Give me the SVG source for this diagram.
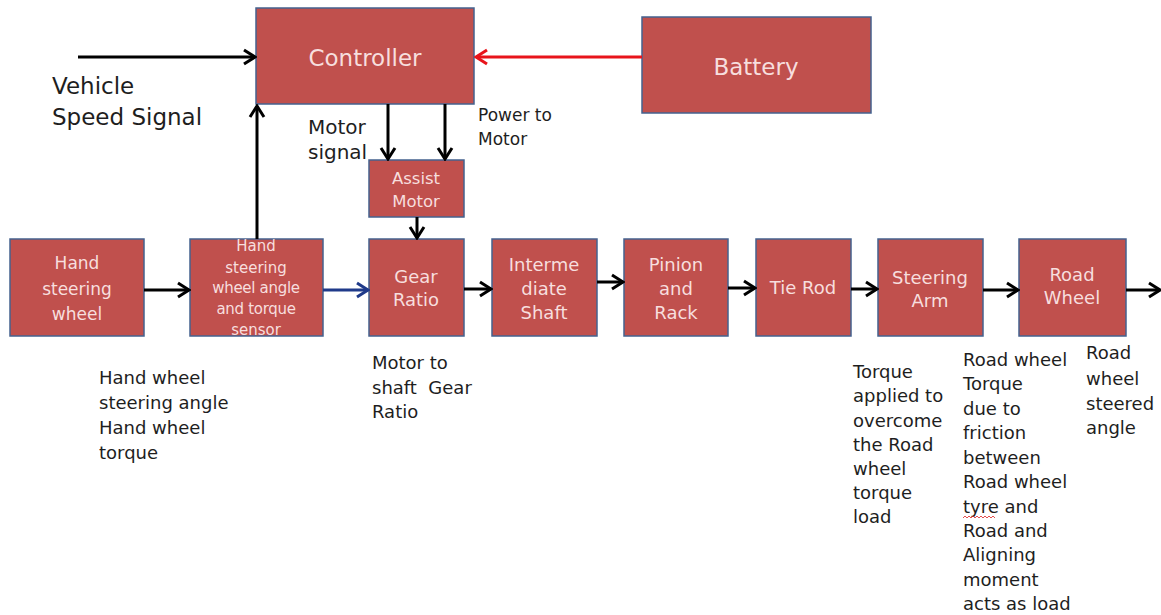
<svg xmlns="http://www.w3.org/2000/svg" width="1161" height="615" viewBox="0 0 1161 615">
<style>
.box{fill:#c0504d;stroke:#44628f;stroke-width:1.5}
.bt{font-family:"DejaVu Sans",sans-serif;fill:#f7dede;text-anchor:middle}
.lt{font-family:"DejaVu Sans",sans-serif;fill:#1e1e1e}
.ln{fill:none;stroke:#000;stroke-width:3}
</style>
<defs>
<marker id="ab" viewBox="0 0 16 18" refX="14" refY="9" markerWidth="16" markerHeight="18" markerUnits="userSpaceOnUse" orient="auto"><path d="M3,2 L14,9 L3,16" fill="none" stroke="#000" stroke-width="3"/></marker>
<marker id="ar" viewBox="0 0 16 18" refX="14" refY="9" markerWidth="16" markerHeight="18" markerUnits="userSpaceOnUse" orient="auto"><path d="M3,2 L14,9 L3,16" fill="none" stroke="#e8141b" stroke-width="3"/></marker>
<marker id="au" viewBox="0 0 16 18" refX="14" refY="9" markerWidth="16" markerHeight="18" markerUnits="userSpaceOnUse" orient="auto"><path d="M3,2 L14,9 L3,16" fill="none" stroke="#1f3a8a" stroke-width="3"/></marker>
</defs>
<rect width="1161" height="615" fill="#fff"/>

<g id="controller"><rect class="box" x="256" y="8" width="218" height="96"/><text class="bt" x="365" y="66" font-size="23">Controller</text></g>
<g id="battery"><rect class="box" x="642" y="17" width="229" height="96"/><text class="bt" x="756" y="75" font-size="23">Battery</text></g>
<g id="assist-motor"><rect class="box" x="369" y="160" width="95" height="57"/><text class="bt" x="416" y="184" font-size="16.5">Assist</text><text class="bt" x="416" y="207" font-size="16.5">Motor</text></g>
<g id="hand-steering-wheel"><rect class="box" x="10" y="239" width="134" height="97"/><text class="bt" x="77" y="269" font-size="17">Hand</text><text class="bt" x="77" y="295" font-size="17">steering</text><text class="bt" x="77" y="320" font-size="17">wheel</text></g>
<g id="sensor"><rect class="box" x="190" y="239" width="133" height="97"/><text class="bt" x="256" y="251" font-size="15">Hand</text><text class="bt" x="256" y="273" font-size="15">steering</text><text class="bt" x="256" y="293" font-size="15" letter-spacing="-0.3">wheel angle</text><text class="bt" x="256" y="314" font-size="15" letter-spacing="-0.3">and torque</text><text class="bt" x="256" y="335" font-size="15">sensor</text></g>
<g id="gear-ratio"><rect class="box" x="369" y="239" width="95" height="97"/><text class="bt" x="416" y="283" font-size="18">Gear</text><text class="bt" x="416" y="306" font-size="18">Ratio</text></g>
<g id="intermediate-shaft"><rect class="box" x="492" y="239" width="105" height="97"/><text class="bt" x="544" y="271" font-size="18">Interme</text><text class="bt" x="544" y="295" font-size="18">diate</text><text class="bt" x="544" y="319" font-size="18">Shaft</text></g>
<g id="pinion-rack"><rect class="box" x="624" y="239" width="104" height="97"/><text class="bt" x="676" y="271" font-size="18">Pinion</text><text class="bt" x="676" y="295" font-size="18">and</text><text class="bt" x="676" y="319" font-size="18">Rack</text></g>
<g id="tie-rod"><rect class="box" x="756" y="239" width="95" height="97"/><text class="bt" x="803" y="294" font-size="18">Tie Rod</text></g>
<g id="steering-arm"><rect class="box" x="878" y="239" width="105" height="97"/><text class="bt" x="930" y="284" font-size="18">Steering</text><text class="bt" x="930" y="307" font-size="18">Arm</text></g>
<g id="road-wheel"><rect class="box" x="1019" y="239" width="107" height="97"/><text class="bt" x="1072" y="281" font-size="18">Road</text><text class="bt" x="1072" y="304" font-size="18">Wheel</text></g>

<g id="connectors">
<line class="ln" x1="78" y1="57" x2="255" y2="57" marker-end="url(#ab)"/>
<line x1="642" y1="57" x2="476" y2="57" stroke="#e8141b" stroke-width="3" marker-end="url(#ar)"/>
<line class="ln" x1="257" y1="239" x2="257" y2="106" marker-end="url(#ab)"/>
<line class="ln" x1="388" y1="104" x2="388" y2="159" marker-end="url(#ab)"/>
<line class="ln" x1="445" y1="104" x2="445" y2="159" marker-end="url(#ab)"/>
<line class="ln" x1="417" y1="217" x2="417" y2="238" marker-end="url(#ab)"/>
<line class="ln" x1="144" y1="290" x2="189" y2="290" marker-end="url(#ab)"/>
<line x1="323" y1="290" x2="368" y2="290" stroke="#1f3a8a" stroke-width="3" marker-end="url(#au)"/>
<line class="ln" x1="464" y1="289" x2="491" y2="289" marker-end="url(#ab)"/>
<line class="ln" x1="597" y1="282" x2="623" y2="282" marker-end="url(#ab)"/>
<line class="ln" x1="728" y1="288" x2="755" y2="288" marker-end="url(#ab)"/>
<line class="ln" x1="851" y1="289" x2="877" y2="289" marker-end="url(#ab)"/>
<line class="ln" x1="983" y1="290" x2="1018" y2="290" marker-end="url(#ab)"/>
<line class="ln" x1="1126" y1="290" x2="1160" y2="290" marker-end="url(#ab)"/>
</g>

<g id="labels">
<text class="lt" x="52" y="94" font-size="23">Vehicle</text>
<text class="lt" x="52" y="125" font-size="23">Speed Signal</text>
<text class="lt" x="308" y="134" font-size="20">Motor</text>
<text class="lt" x="308" y="159" font-size="20">signal</text>
<text class="lt" x="478" y="121" font-size="17">Power to</text>
<text class="lt" x="478" y="145" font-size="17">Motor</text>
<text class="lt" x="99" y="384" font-size="18">Hand wheel</text>
<text class="lt" x="99" y="409" font-size="18">steering angle</text>
<text class="lt" x="99" y="434" font-size="18">Hand wheel</text>
<text class="lt" x="99" y="459" font-size="18">torque</text>
<text class="lt" x="372" y="369" font-size="18">Motor to</text>
<text class="lt" x="372" y="394" font-size="18" xml:space="preserve">shaft  Gear</text>
<text class="lt" x="372" y="418" font-size="18">Ratio</text>
<text class="lt" x="853" y="378" font-size="18">Torque</text>
<text class="lt" x="853" y="402" font-size="18">applied to</text>
<text class="lt" x="853" y="427" font-size="18">overcome</text>
<text class="lt" x="853" y="451" font-size="18">the Road</text>
<text class="lt" x="853" y="475" font-size="18">wheel</text>
<text class="lt" x="853" y="499" font-size="18">torque</text>
<text class="lt" x="853" y="523" font-size="18">load</text>
<text class="lt" x="963" y="366" font-size="18">Road wheel</text>
<text class="lt" x="963" y="390" font-size="18">Torque</text>
<text class="lt" x="963" y="415" font-size="18">due to</text>
<text class="lt" x="963" y="439" font-size="18">friction</text>
<text class="lt" x="963" y="464" font-size="18">between</text>
<text class="lt" x="963" y="488" font-size="18">Road wheel</text>
<text class="lt" x="963" y="513" font-size="18">tyre and</text>
<text class="lt" x="963" y="537" font-size="18">Road and</text>
<text class="lt" x="963" y="561" font-size="18">Aligning</text>
<text class="lt" x="963" y="586" font-size="18">moment</text>
<text class="lt" x="963" y="610" font-size="18">acts as load</text>
<path d="M963,518 l2,-2 l2,2 l2,-2 l2,2 l2,-2 l2,2 l2,-2 l2,2 l2,-2 l2,2 l2,-2 l2,2 l2,-2 l2,2 l2,-2 l2,2" fill="none" stroke="#d22" stroke-width="0.8"/>
<text class="lt" x="1086" y="359" font-size="18">Road</text>
<text class="lt" x="1086" y="385" font-size="18">wheel</text>
<text class="lt" x="1086" y="410" font-size="18">steered</text>
<text class="lt" x="1086" y="434" font-size="18">angle</text>
</g>
</svg>
